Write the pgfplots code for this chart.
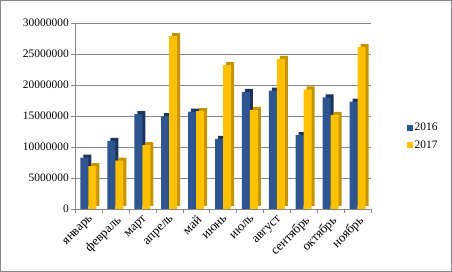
\documentclass[border=0pt]{standalone}
\usepackage{fontspec}
\setmainfont{Liberation Serif}
\usepackage{pgfplots}
\pgfplotsset{compat=1.18}
\definecolor{cblue}{RGB}{47,85,145}
\definecolor{cblueside}{RGB}{28,52,92}
\definecolor{cyel}{RGB}{255,192,0}
\definecolor{cyelside}{RGB}{196,148,0}
\definecolor{cgrid}{RGB}{134,134,134}
\begin{document}
\begin{tikzpicture}
\useasboundingbox (0bp,0bp) rectangle (452bp,272bp);
\draw[cgrid,line width=1bp] (0.5bp,0.5bp) rectangle (451.5bp,271.5bp);
\begin{axis}[
  at={(75bp,63bp)}, anchor=south west,
  scale only axis, width=296bp, height=186bp,
  ybar, bar width=8bp,
  xmin=-0.5, xmax=10.5, ymin=0, ymax=30000000,
  scaled y ticks=false,
  axis x line*=bottom, axis y line*=left,
  axis line style={cgrid},
  xtick={0,...,10},
  xticklabels={январь,февраль,март,апрель,май,июнь,июль,август,сентябрь,октябрь,ноябрь},
  major x tick style={draw=none},
  minor xtick={-0.5,0.5,...,10.5},
  minor tick length=4bp,
  minor x tick style={cgrid},
  xticklabel style={rotate=45, anchor=north east, inner sep=1bp, font=\fontsize{13}{14}\selectfont},
  ytick={0,5000000,10000000,15000000,20000000,25000000,30000000},
  yticklabels={0,5000000,10000000,15000000,20000000,25000000,30000000},
  yticklabel style={font=\fontsize{11.5}{12}\selectfont, inner sep=2bp},
  major y tick style={cgrid},
  tick align=outside, major tick length=4bp,
  tick pos=left,
  ymajorgrids, grid style={cgrid, line width=0.8bp},
  legend style={at={(1.11,0.39)}, anchor=west, draw=none, fill=none,
    font=\fontsize{11.5}{12}\selectfont, row sep=4bp,
    legend cell align=left},
  legend image code/.code={\fill (0bp,-3bp) rectangle (6bp,3bp);},
]
\addplot[fill=cblueside, draw=none, bar shift=-4bp, xshift=3bp, yshift=3bp, forget plot] coordinates {
(0,8300000) (1,11000000) (2,15300000) (3,15000000) (4,15700000) (5,11300000)
(6,18900000) (7,19100000) (8,11900000) (9,18000000) (10,17300000)};
\addplot[fill=cblue, draw=none, bar shift=-4bp] coordinates {
(0,8300000) (1,11000000) (2,15300000) (3,15000000) (4,15700000) (5,11300000)
(6,18900000) (7,19100000) (8,11900000) (9,18000000) (10,17300000)};
\addplot[fill=cyelside, draw=none, bar shift=4bp, xshift=3bp, yshift=3bp, forget plot] coordinates {
(0,6900000) (1,7800000) (2,10300000) (3,27900000) (4,15800000) (5,23200000)
(6,16000000) (7,24200000) (8,19300000) (9,15200000) (10,26100000)};
\addplot[fill=cyel, draw=none, bar shift=4bp] coordinates {
(0,6900000) (1,7800000) (2,10300000) (3,27900000) (4,15800000) (5,23200000)
(6,16000000) (7,24200000) (8,19300000) (9,15200000) (10,26100000)};
\legend{2016,2017}
\end{axis}
\end{tikzpicture}
\end{document}
